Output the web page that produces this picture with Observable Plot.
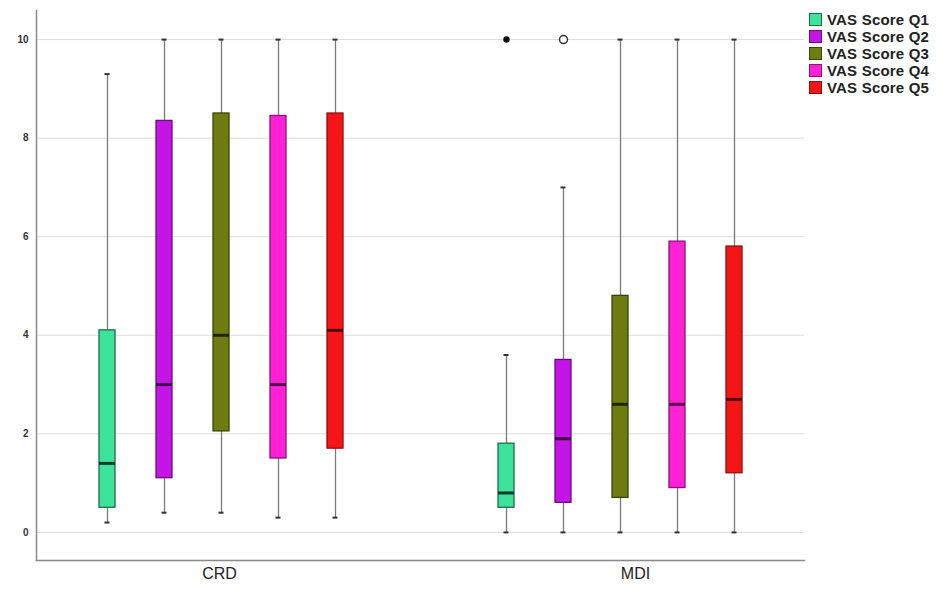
<!DOCTYPE html>
<html>
<head>
<meta charset="utf-8">
<script src="https://cdn.jsdelivr.net/npm/d3@7"></script>
<script src="https://cdn.jsdelivr.net/npm/@observablehq/plot@0.6"></script>
<style>
  html, body { margin: 0; padding: 0; background: #fff; }
  #wrap { position: relative; width: 945px; height: 589px; }
  #legend { position: absolute; left: 809px; top: 11px; font-family: "Liberation Sans", Arial, sans-serif; font-weight: bold; font-size: 15px; letter-spacing: 0.2px; color: #222; }
  #legend .row { display: flex; align-items: center; height: 17px; white-space: nowrap; }
  #legend .sw { width: 13px; height: 13px; box-sizing: border-box; border: 1px solid #444; margin-right: 5px; }
</style>
</head>
<body>
<div id="wrap"><div id="legend"></div></div>
<script>
const groups = ["CRD", "MDI"];
const series = ["VAS Score Q1", "VAS Score Q2", "VAS Score Q3", "VAS Score Q4", "VAS Score Q5"];
const fills = ["#3ee39b", "#c515e6", "#6e7c12", "#ff21d6", "#f41616"];
const strokes = ["#1c6e48", "#66107a", "#3a4208", "#8c1378", "#8e0f0f"];
const medianStrokes = ["#0d3d27", "#3d0a4a", "#202505", "#55094a", "#560808"];
const yTicks = [0, 2, 4, 6, 8, 10];

// per group (row) per series (column)
const minVals = [[0.2, 0.4, 0.4, 0.3, 0.3], [0, 0, 0, 0, 0]];
const q1Vals  = [[0.5, 1.1, 2.05, 1.5, 1.7], [0.5, 0.6, 0.7, 0.9, 1.2]];
const medVals = [[1.4, 3.0, 4.0, 3.0, 4.1], [0.8, 1.9, 2.6, 2.6, 2.7]];
const q3Vals  = [[4.1, 8.35, 8.5, 8.45, 8.5], [1.8, 3.5, 4.8, 5.9, 5.8]];
const maxVals = [[9.3, 10, 10, 10, 10], [3.6, 7.0, 10, 10, 10]];

const outGroup  = ["MDI", "MDI"];
const outSeries = ["VAS Score Q1", "VAS Score Q2"];
const outValue  = [10, 10];
const outKind   = ["extreme", "outlier"];

const key = (g, s) => g + " | " + s;
const spacers = ["_gap1", "_gap2"];
const xDomain = [...series.map(s => key(groups[0], s)), ...spacers, ...series.map(s => key(groups[1], s))];

const boxes = [];
groups.forEach((g, gi) => series.forEach((s, si) => boxes.push({
  group: g, series: s, key: key(g, s),
  min: minVals[gi][si], q1: q1Vals[gi][si], med: medVals[gi][si], q3: q3Vals[gi][si], max: maxVals[gi][si],
  fill: fills[si], stroke: strokes[si], medStroke: medianStrokes[si]
})));
const outliers = outValue.map((v, i) => ({key: key(outGroup[i], outSeries[i]), value: v, kind: outKind[i]}));

const chart = Plot.plot({
  width: 945,
  height: 589,
  marginLeft: 36,
  marginRight: 141,
  marginTop: 10,
  marginBottom: 29,
  style: {fontFamily: "Liberation Sans, Arial, sans-serif", background: "transparent"},
  x: {type: "band", domain: xDomain, paddingInner: 0.72, paddingOuter: 1.05, axis: null},
  y: {domain: [-0.57, 10.59], ticks: yTicks, label: null},
  color: {type: "identity"},
  marks: [
    Plot.gridY(yTicks, {stroke: "#dcdcdc", strokeOpacity: 1, strokeWidth: 1}),
    Plot.axisY(yTicks, {tickSize: 0, tickPadding: 8, fontSize: 10, fontWeight: "bold", fill: "#333", label: null, tickFormat: d => String(d)}),
    Plot.frame({anchor: "left", stroke: "#8a8a8a", strokeWidth: 1.5}),
    Plot.frame({anchor: "bottom", stroke: "#8a8a8a", strokeWidth: 1.5}),
    Plot.ruleX(boxes, {x: "key", y1: "min", y2: "max", stroke: "#7a7a7a", strokeWidth: 1.3}),
    Plot.tickY(boxes, {x: "key", y: "min", stroke: "#333", strokeWidth: 2, insetLeft: 5.5, insetRight: 5.5}),
    Plot.tickY(boxes, {x: "key", y: "max", stroke: "#333", strokeWidth: 2, insetLeft: 5.5, insetRight: 5.5}),
    Plot.barY(boxes, {x: "key", y1: "q1", y2: "q3", fill: "fill", stroke: "stroke", strokeWidth: 1.3}),
    Plot.tickY(boxes, {x: "key", y: "med", stroke: "medStroke", strokeWidth: 3}),
    Plot.dot(outliers.filter(d => d.kind === "extreme"), {x: "key", y: "value", r: 2.5, fill: "#111", stroke: "#111"}),
    Plot.dot(outliers.filter(d => d.kind === "outlier"), {x: "key", y: "value", r: 4, fill: "white", stroke: "#333", strokeWidth: 1.5}),
    Plot.text([groups[0]], {x: d => key(d, series[2]), text: d => d, frameAnchor: "bottom", dy: 18, dx: -2, fontSize: 16, fill: "#222"}),
    Plot.text([groups[1]], {x: d => key(d, series[2]), text: d => d, frameAnchor: "bottom", dy: 18, dx: 15, fontSize: 16, fill: "#222"})
  ]
});
document.getElementById("wrap").prepend(chart);

const legend = document.getElementById("legend");
series.forEach((s, i) => {
  const row = document.createElement("div");
  row.className = "row";
  const sw = document.createElement("div");
  sw.className = "sw";
  sw.style.background = fills[i];
  sw.style.borderColor = strokes[i];
  const t = document.createElement("span");
  t.textContent = s;
  row.append(sw, t);
  legend.append(row);
});
</script>
</body>
</html>
